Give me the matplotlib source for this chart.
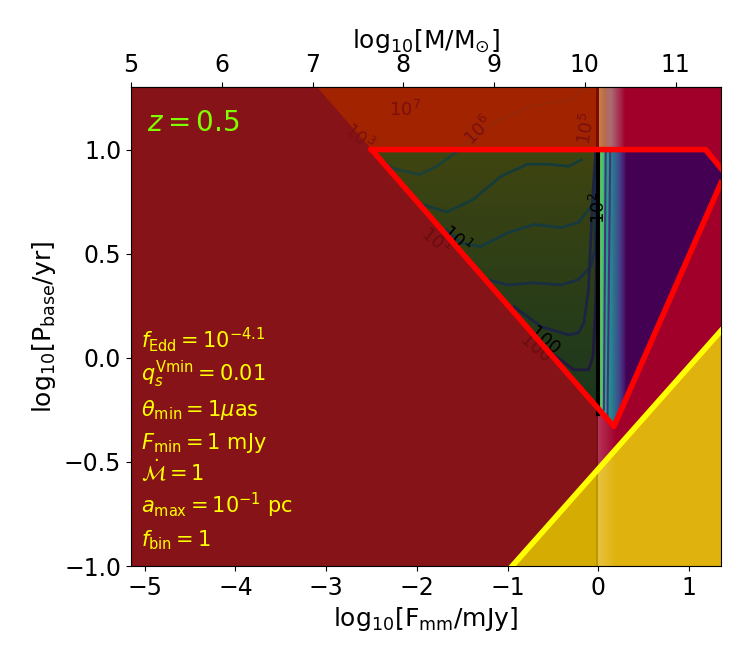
import numpy as np
import matplotlib
matplotlib.use("Agg")
import matplotlib.pyplot as plt
from matplotlib.patches import Polygon, Rectangle
from matplotlib.colors import LinearSegmentedColormap

# axis ranges (log10 F_mm and log10 P_base), top axis is log10 M
x_lim = (-5.15, 1.35)
y_lim = (-1.0, 1.3)
mass_shift = 10.15
mass_ticks = [5, 6, 7, 8, 9, 10, 11]

# red outline of the detectable region
red_x = [-2.50, 1.18, 1.35, 1.35, 0.17, -2.50]
red_y = [1.00, 1.00, 0.91, 0.84, -0.33, 1.00]

# orange region above P_base = 10 yr
orange_x = [-3.10, -2.50, -0.02, -0.02]
orange_y = [1.30, 1.00, 1.00, 1.30]

# yellow exclusion boundary
yellow_x = [-0.95, 1.35]
yellow_y = [-1.00, 0.13]

# contour lines inside the green region
c1_x = [-2.49, -2.27, -1.97, -1.78, -1.56]
c1_y = [0.99, 0.91, 0.88, 0.92, 0.99]
c2_x = [-2.04, -1.67, -1.38, -1.08, -0.78, -0.56, -0.33, -0.19]
c2_y = [0.75, 0.70, 0.76, 0.87, 0.93, 0.93, 0.92, 0.95]
c3_x = [-1.67, -1.52, -1.30, -1.00, -0.71, -0.41, -0.22, -0.08, -0.04, -0.02]
c3_y = [0.615, 0.553, 0.534, 0.60, 0.64, 0.625, 0.65, 0.726, 0.81, 0.99]
c4_x = [-1.22, -1.00, -0.71, -0.41, -0.22, -0.08, -0.04, -0.03]
c4_y = [0.375, 0.35, 0.36, 0.35, 0.375, 0.44, 0.52, 0.99]
c5_x = [-0.93, -0.63, -0.33, -0.22, -0.16, -0.11, -0.10, -0.06, -0.03]
c5_y = [0.245, 0.149, 0.11, 0.12, 0.168, 0.327, 0.42, 0.80, 0.99]
c6_x = [-0.52, -0.27, -0.11, -0.06, -0.03, -0.02]
c6_y = [0.024, -0.058, -0.058, 0.005, 0.26, 0.60]
contour_lines = [(c1_x, c1_y, '#1d4038'), (c2_x, c2_y, '#163c3a'),
                 (c3_x, c3_y, '#163a3e'), (c4_x, c4_y, '#192e42'),
                 (c5_x, c5_y, '#1c2444'), (c6_x, c6_y, '#201a40')]

# faint contour in the upper region
top_x = [-1.56, -1.11, -0.74, -0.30, -0.16]
top_y = [1.00, 1.14, 1.21, 1.24, 1.29]

# contour labels
label_text = ['$10^7$', '$10^6$', '$10^5$', '$10^3$', '$10^1$', '100', '$10^2$', '$10^1$', '100']
label_x = [-2.13, -1.32, -0.13, -2.64, -1.56, -0.60, 0.01, -1.80, -0.70]
label_y = [1.19, 1.09, 1.10, 1.06, 0.57, 0.08, 0.72, 0.56, 0.04]
label_rot = [0, 45, 80, -40, -40, -40, 90, -40, -40]
label_col = ['#7a1010', '#7a1010', '#7a1010', '#7a1010', 'black', 'black', 'black', '#6a0c10', '#6a0c10']

params = [r'$f_{\rm Edd}=10^{-4.1}$', r'$q_s^{\rm Vmin}=0.01$', r'$\theta_{\rm min}=1\mu$as',
          r'$F_{\rm min}=1$ mJy', r'$\dot{\mathcal{M}}=1$', r'$a_{\rm max}=10^{-1}$ pc',
          r'$f_{\rm bin}=1$']
params_y = [0.047, -0.114, -0.279, -0.438, -0.59, -0.745, -0.907]


def hstrip(ax, x0, x1, y0, y1, cmap, v0, v1, z):
    # horizontal colour ramp drawn as a mesh
    xe = np.linspace(x0, x1, 61)
    c = np.linspace(v0, v1, 60).reshape(1, -1)
    return ax.pcolormesh(xe, [y0, y1], c, cmap=cmap, vmin=0, vmax=1, zorder=z, shading='flat')


fig = plt.figure(figsize=(7.5, 6.6), dpi=100)
ax = fig.add_axes([0.1747, 0.1424, 0.9613 - 0.1747, 0.868 - 0.1424])
ax.set_facecolor('#a1002b')

# dark red for F_mm < 1 mJy
ax.add_patch(Rectangle((x_lim[0], y_lim[0]), 0 - x_lim[0], y_lim[1] - y_lim[0],
                       color='#861317', zorder=1, lw=0))
ax.add_patch(Polygon(np.column_stack([orange_x, orange_y]), color='#a22300', zorder=1.2, lw=0))
ax.add_patch(Rectangle((-0.03, 1.0), 0.04, 0.3, color='#7d0a0a', zorder=1.3, lw=0))

# upper strip near F = 1 mJy
top_cmap = LinearSegmentedColormap.from_list('top', [(0, '#c8803c'), (0.2, '#b86a50'),
                                                      (0.45, '#a86a72'), (0.7, '#a83a5a'),
                                                      (1, '#a1002b')])
hstrip(ax, 0.01, 0.30, 1.0, 1.3, top_cmap, 0, 1, 1.3)

# yellow region
ypts = np.column_stack([yellow_x + [1.35], yellow_y + [-1.0]])
for col, (x0, x1) in [('#d5ad02', (-1.0, 0.0)), ('#e0b20e', (0.0, 1.4))]:
    p = ax.add_patch(Polygon(ypts, color=col, zorder=2, lw=0))
    clip = Rectangle((x0, -1.0), x1 - x0, 2.3, transform=ax.transData)
    p.set_clip_path(clip)

# light strip just right of F = 1 mJy
strip_cmap = LinearSegmentedColormap.from_list('strip', [(1, 1, 1, 0.2), (1, 1, 1, 0.0)])
hstrip(ax, 0.0, 0.2, -1.0, 0.0, strip_cmap, 0, 1, 2.5)
ax.add_patch(Rectangle((-0.03, -1.0), 0.03, 1.0, color='black', alpha=0.12, zorder=2.5, lw=0))

# detectable region fills
red_pts = np.column_stack([red_x, red_y])
ax.add_patch(Polygon(red_pts, color='#440154', zorder=3, lw=0))
clip_poly = Polygon(red_pts, transform=ax.transData)

green_cmap = LinearSegmentedColormap.from_list('green', ['#15361f', '#3f4410'])
ye = np.linspace(-0.4, 1.0, 61)
gm = ax.pcolormesh([-2.6, 0.0], ye, np.linspace(0, 1, 60).reshape(-1, 1), cmap=green_cmap,
                   vmin=0, vmax=1, zorder=3.1, shading='flat')
gm.set_clip_path(clip_poly)
vm = hstrip(ax, 0.0, 0.31, -0.4, 1.0, 'viridis', 0.82, 0.0, 3.2)
vm.set_clip_path(clip_poly)

for cx, cy, col in contour_lines:
    ln, = ax.plot(cx, cy, color=col, lw=2, zorder=3.5)
    ln.set_clip_path(clip_poly)
ax.plot(top_x, top_y, color='#902a10', lw=1.5, alpha=0.6, zorder=1.5)
ax.plot([0.06, 0.08], [-0.25, 1.0], color='#46317e', lw=1.5, zorder=3.5)
ax.plot([0.10, 0.13], [-0.28, 1.0], color='#46317e', lw=1.5, zorder=3.5)

for t, lx, ly, r, c in zip(label_text, label_x, label_y, label_rot, label_col):
    ax.text(lx, ly, t, rotation=r, color=c, fontsize=13, ha='center', va='center', zorder=4)

ax.plot([0.0, 0.0], [-0.27, 1.0], color='black', lw=3, zorder=4.5)
ax.plot(red_x[:3], red_y[:3], color='red', lw=4, zorder=6)
ax.plot(red_x[3:], red_y[3:], color='red', lw=4, zorder=6)
ax.plot(yellow_x, yellow_y, color='yellow', lw=4, zorder=6)

ax.text(-4.97, 1.09, '$z=0.5$', color='#7fff00', fontsize=20, zorder=7)
for t, py in zip(params, params_y):
    ax.text(-5.04, py, t, color='yellow', fontsize=15, zorder=7)

ax.set_xlim(x_lim)
ax.set_ylim(y_lim)
ax.set_xticks([-5, -4, -3, -2, -1, 0, 1])
ax.set_yticks([-1.0, -0.5, 0.0, 0.5, 1.0])
ax.tick_params(labelsize=17)
ax.set_xlabel(r'$\rm log_{10}[F_{mm}/mJy]$', fontsize=18)
ax.set_ylabel(r'$\rm log_{10}[P_{base}/yr]$', fontsize=18)

secax = ax.secondary_xaxis('top', functions=(lambda x: x + mass_shift, lambda m: m - mass_shift))
secax.set_xticks(mass_ticks)
secax.tick_params(labelsize=17)
secax.set_xlabel(r'$\rm log_{10}[M/M_{\odot}]$', fontsize=18)

fig.savefig('out.png', dpi=100)
